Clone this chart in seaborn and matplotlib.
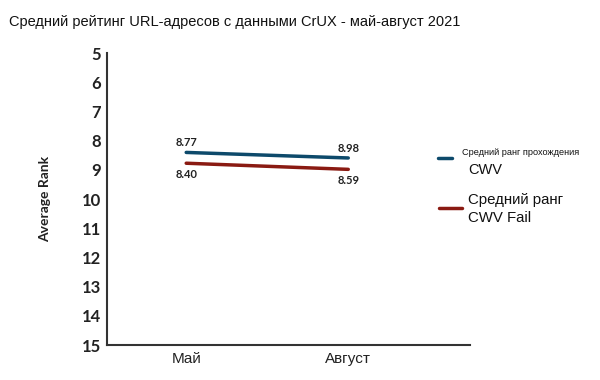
import matplotlib
matplotlib.use("Agg")
import matplotlib.pyplot as plt
import seaborn as sns
import pandas as pd
from matplotlib.lines import Line2D

months = ["Май", "Август"]
pass_rank = [8.40, 8.59]
fail_rank = [8.77, 8.98]
pass_labels = ["8.77", "8.98"]
fail_labels = ["8.40", "8.59"]
series_names = ["Средний ранг прохождения CWV", "Средний ранг CWV Fail"]
yticks = list(range(5, 16))

sns.set_theme(style="white")
plt.rcParams['font.family'] = ['Lato', 'DejaVu Sans']

df = pd.DataFrame({
    "x": [0, 1, 0, 1],
    "rank": pass_rank + fail_rank,
    "series": [series_names[0]] * 2 + [series_names[1]] * 2,
})
colors = {series_names[0]: "#0d4a6b", series_names[1]: "#8a1a12"}

fig = plt.figure(figsize=(6, 3.8), dpi=100)
ax = fig.add_axes([0.178, 0.092, 0.605, 0.768])
sns.lineplot(data=df, x="x", y="rank", hue="series", palette=colors,
             linewidth=2.5, ax=ax, legend=False)

ax.set_xlim(-0.49, 1.75)
ax.set_ylim(15, 5)
ax.set_yticks(yticks)
ax.set_yticklabels([str(t) for t in yticks], fontsize=12, fontweight="bold", color="#222222")
ax.set_xticks([0, 1])
ax.set_xticklabels(months, fontsize=11, family=["Liberation Sans", "DejaVu Sans"], color="#222222")
ax.tick_params(axis="both", length=0, pad=4)
ax.tick_params(axis="x", pad=5)
ax.set_xlabel("")
ax.set_ylabel("Average Rank", fontsize=10, fontweight="bold", labelpad=22, color="#222222")
for s in ["top", "right"]:
    ax.spines[s].set_visible(False)
for s in ["left", "bottom"]:
    ax.spines[s].set_color("#333333")
    ax.spines[s].set_linewidth(1.5)

for i in range(2):
    ax.annotate(pass_labels[i], (i, pass_rank[i]), xytext=(0, 3), textcoords="offset points",
                ha="center", va="bottom", fontsize=8, fontweight="bold", color="#222222")
    ax.annotate(fail_labels[i], (i, fail_rank[i]), xytext=(0, -4), textcoords="offset points",
                ha="center", va="top", fontsize=8, fontweight="bold", color="#222222")

fig.text(0.015, 0.942, "Средний рейтинг URL-адресов с данными CrUX - май-август 2021",
         fontsize=10.5, family=["Liberation Sans", "DejaVu Sans"],
         ha="left", va="center", color="#111111")

# legend
fig.add_artist(Line2D([0.730, 0.753], [0.583, 0.583], color=colors[series_names[0]], lw=2.5,
                      transform=fig.transFigure))
fig.text(0.770, 0.598, "Средний ранг прохождения", fontsize=6.6,
         family=["Liberation Sans", "DejaVu Sans"], va="center", color="#111111")
fig.text(0.780, 0.553, "CWV", fontsize=10.5, family=["Liberation Sans", "DejaVu Sans"], va="center", color="#111111")
fig.add_artist(Line2D([0.732, 0.770], [0.452, 0.452], color=colors[series_names[1]], lw=2.5,
                      transform=fig.transFigure))
fig.text(0.780, 0.473, "Средний ранг", fontsize=10.8, family=["Liberation Sans", "DejaVu Sans"], va="center", color="#111111")
fig.text(0.780, 0.426, "CWV Fail", fontsize=10.8, family=["Liberation Sans", "DejaVu Sans"], va="center", color="#111111")

fig.savefig("out.png", dpi=100)
